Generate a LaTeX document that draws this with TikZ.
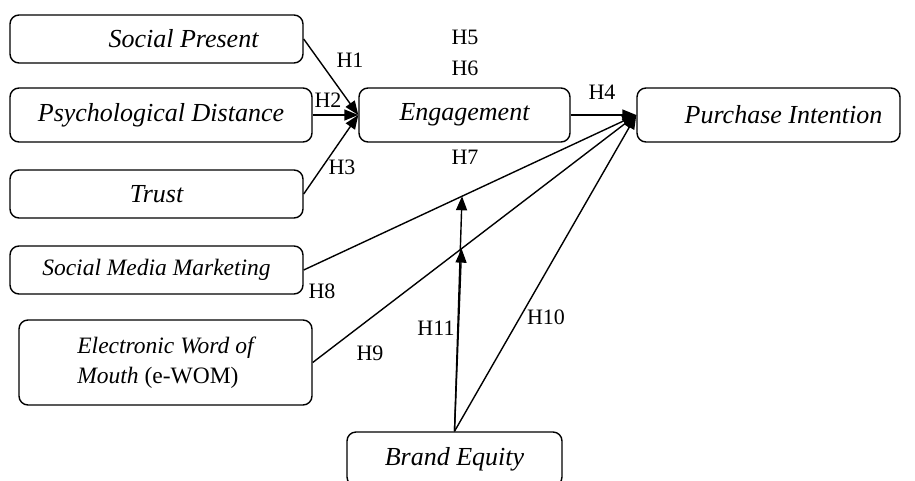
\documentclass[tikz,border=0pt]{standalone}
\usepackage{fontspec}
\setmainfont{Liberation Serif}
\usetikzlibrary{arrows.meta,calc}
\begin{document}
\begin{tikzpicture}[x=1pt,y=-1pt,
  box/.style={draw,line width=1.4pt,rounded corners=9pt,inner sep=0pt,font=\fontsize{26}{30}\selectfont\itshape},
  sbox/.style={box,font=\fontsize{23.5}{30}\selectfont\itshape},
  hlab/.style={font=\fontsize{22}{26}\selectfont,inner sep=0pt},
  conn/.style={line width=1.4pt,-{Triangle[length=14pt,width=11pt]}}]
\clip (0,0) rectangle (915,480);
\node[box,minimum width=293pt,minimum height=48pt] (sp) at (156.5,39) {\hspace*{54pt}Social Present};
\node[box,minimum width=302pt,minimum height=54pt] (pd) at (161,115) {Psychological Distance};
\node[box,minimum width=293pt,minimum height=48pt] (tr) at (156.5,194) {Trust};
\node[box,minimum width=211pt,minimum height=54pt] (en) at (464.5,115) {Engagement};
\node[box,minimum width=263pt,minimum height=54pt] (pi) at (768.5,115) {\hspace*{30pt}Purchase Intention};
\node[sbox,minimum width=293pt,minimum height=48pt] (smm) at (156.5,270) {Social Media Marketing};
\node[sbox,minimum width=293pt,minimum height=85pt,align=left] (ew) at (165.5,362.5) {Electronic Word of\\Mouth {\upshape(e-WOM)}};
\node[box,minimum width=215pt,minimum height=54pt] (be) at (454.5,459) {Brand Equity};

\coordinate (m7) at ($(smm.east)!0.476!(pi.west)$);
\coordinate (m11) at ($(ew.east)!0.46!(pi.west)$);

\draw[conn] (sp.east) -- (en.west);
\draw[conn] (pd.east) -- (en.west);
\draw[conn] (tr.east) -- (en.west);
\draw[conn] (en.east) -- (pi.west);
\draw[conn] (smm.east) -- (pi.west);
\draw[conn] (ew.east) -- (pi.west);
\draw[conn] (be.north) -- (pi.west);
\draw[conn] (be.north) -- (m7);
\draw[conn] (be.north) -- (m11);

\node[hlab] (h1) at (350,60) {H1};
\node[hlab] (h2) at (328,100) {H2};
\node[hlab] (h3) at (342,167) {H3};
\node[hlab] (h4) at (602,92) {H4};
\node[hlab] (h5) at (465,37) {H5};
\node[hlab] (h6) at (465,68) {H6};
\node[hlab] (h7) at (465,157) {H7};
\node[hlab] (h8) at (322,291) {H8};
\node[hlab] (h9) at (370,353) {H9};
\node[hlab] (h10) at (546,317) {H10};
\node[hlab] (h11) at (436,328) {H11};
\end{tikzpicture}
\end{document}
